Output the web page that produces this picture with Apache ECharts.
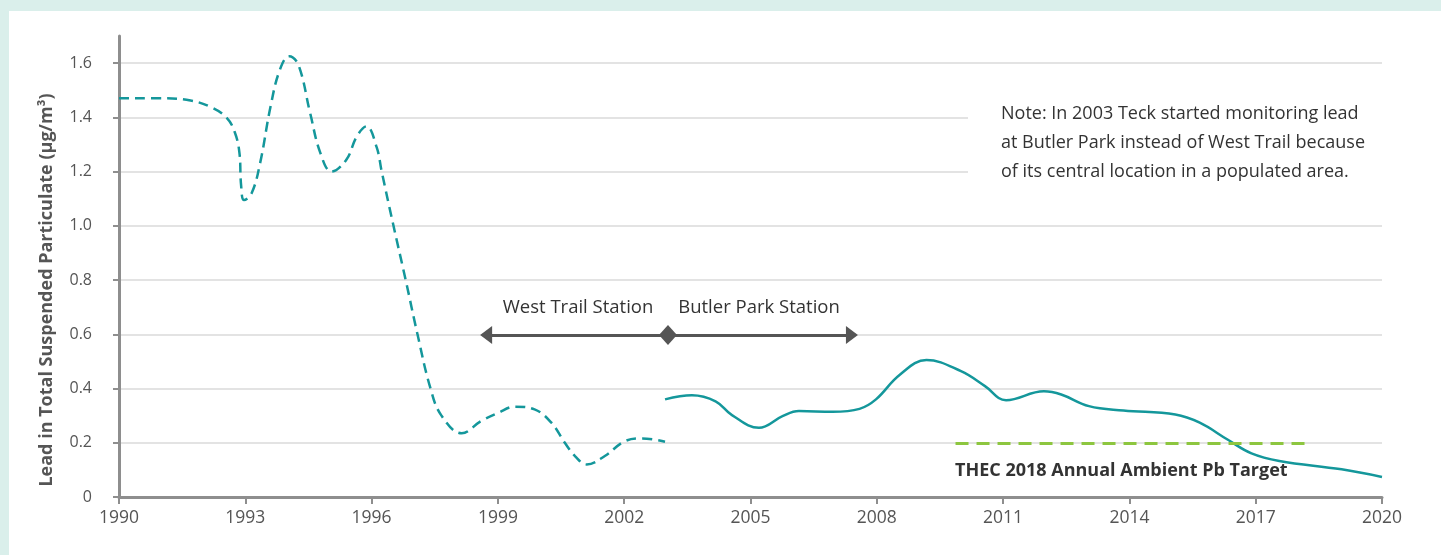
<!DOCTYPE html>
<html>
<head>
<meta charset="utf-8">
<script src="https://cdn.jsdelivr.net/npm/echarts@6/dist/echarts.min.js"></script>
<style>
html,body{margin:0;padding:0;background:#daefeb;}
#c{width:1441px;height:555px;}
</style>
</head>
<body>
<div id="c"></div>
<script>
// West Trail Station (dashed)
const westYears  = [1990.0,1991.1,1991.7,1992.15,1992.55,1992.75,1992.86,1992.9,1992.97,1993.15,1993.35,1993.6,1993.82,1994.04,1994.26,1994.54,1994.78,1995.05,1995.4,1995.65,1995.88,1996.12,1996.24,1996.52,1996.81,1997.09,1997.4,1997.66,1998.14,1998.6,1999.0,1999.4,1999.87,2000.27,2000.59,2000.83,2001.11,2001.54,2002.02,2002.42,2002.97];
const westValues = [1.47,1.47,1.462,1.44,1.40,1.345,1.27,1.15,1.095,1.12,1.23,1.44,1.575,1.625,1.594,1.416,1.27,1.20,1.244,1.33,1.367,1.29,1.2,1.0,0.8,0.6,0.4,0.3,0.235,0.28,0.31,0.333,0.323,0.274,0.2,0.151,0.12,0.151,0.206,0.216,0.204];
// Butler Park Station (solid)
const butlerYears  = [2002.97,2003.61,2004.17,2004.56,2005.2,2005.76,2006.15,2006.95,2007.59,2007.98,2008.54,2009.18,2010.0,2010.57,2011.07,2011.97,2012.38,2013.04,2013.86,2015.09,2015.67,2016.33,2016.9,2017.56,2019.04,2020.0];
const butlerValues = [0.36,0.375,0.353,0.302,0.255,0.298,0.317,0.314,0.325,0.36,0.45,0.505,0.464,0.409,0.357,0.39,0.378,0.335,0.319,0.304,0.274,0.212,0.161,0.133,0.102,0.074];
// Target line
const targetValue = 0.2;
const targetStart = 2009.87;
const targetEnd = 2018.34;
// Station arrow
const arrowValue = 0.597;
const arrowStart = 1998.72;
const arrowSwitch = 2003.04;
const arrowEnd = 2007.41;
// Axis ticks
const yTicks = [0,0.2,0.4,0.6,0.8,1.0,1.2,1.4,1.6];
const xMin = 1990, xMax = 2020, xStep = 3;

const chart = echarts.init(document.getElementById('c'));
const zipPairs = (xs, ys) => xs.map((x, i) => [x, ys[i]]);
const teal = '#14979b';
const dark = '#555555';
const font = '"Open Sans", sans-serif';

chart.setOption({
  animation: false,
  backgroundColor: 'transparent',
  grid: {left: 119, right: 59, top: 36, bottom: 58},
  xAxis: {
    type: 'value', min: xMin, max: xMax, interval: xStep,
    axisLine: {lineStyle: {color: '#8e8e8e', width: 3}},
    axisTick: {show: true, length: 7, lineStyle: {color: '#8e8e8e', width: 2}},
    axisLabel: {color: '#555', fontSize: 17.5, fontFamily: font, margin: 12, formatter: v => String(v)},
    splitLine: {show: false}
  },
  yAxis: {
    type: 'value', min: 0, max: 1.7,
    axisLine: {show: true, lineStyle: {color: '#8e8e8e', width: 3}},
    axisTick: {show: true, length: 6, customValues: yTicks, lineStyle: {color: '#8e8e8e', width: 2}},
    axisLabel: {color: '#555', fontSize: 16, fontFamily: font, margin: 27, customValues: yTicks,
      formatter: v => v === 0 ? '0' : v.toFixed(1)},
    splitLine: {show: true, lineStyle: {color: '#dadada', width: 1.5}}
  },
  graphic: [
    {type: 'rect', z: 1, shape: {x: 968, y: 82, width: 420, height: 120}, style: {fill: '#ffffff'}},
    {type: 'rect', z: -10, shape: {x: 9, y: 11, width: 1432, height: 544}, style: {fill: '#ffffff'}},
    {type: 'text', z: 5, x: 1001, y: 99, style: {text: 'Note: In 2003 Teck started monitoring lead\nat Butler Park instead of West Trail because\nof its central location in a populated area.', fill: '#333', font: '18px ' + font, lineHeight: 29, textVerticalAlign: 'top'}},
    {type: 'text', z: 5, x: 47, y: 290, rotation: Math.PI / 2, style: {text: 'Lead in Total Suspended Particulate (µg/m³)', fill: '#555', font: 'bold 18px ' + font, textAlign: 'center', textVerticalAlign: 'middle'}},
    {type: 'text', z: 5, x: 955, y: 471, style: {text: 'THEC 2018 Annual Ambient Pb Target', fill: '#333', font: 'bold 18px ' + font, textAlign: 'left', textVerticalAlign: 'middle'}},
    {type: 'text', z: 5, x: 578, y: 308, style: {text: 'West Trail Station', fill: '#333', font: '18.5px ' + font, textAlign: 'center', textVerticalAlign: 'middle'}},
    {type: 'text', z: 5, x: 759, y: 308, style: {text: 'Butler Park Station', fill: '#333', font: '18.5px ' + font, textAlign: 'center', textVerticalAlign: 'middle'}}
  ],
  series: [
    {
      type: 'line', name: 'West Trail', data: zipPairs(westYears, westValues),
      smooth: 0.4, showSymbol: false, z: 3,
      lineStyle: {color: teal, width: 2.5, type: [10, 6]},
      markLine: {
        silent: true, symbol: ['triangle', 'triangle'], symbolSize: [18, 12],
        label: {show: false},
        lineStyle: {color: dark, width: 3, type: 'solid'},
        data: [[{coord: [arrowStart, arrowValue]}, {coord: [arrowEnd, arrowValue]}]]
      },
      markPoint: {
        silent: true, symbol: 'diamond', symbolSize: [18, 20],
        itemStyle: {color: dark}, label: {show: false},
        data: [{coord: [arrowSwitch, arrowValue]}]
      }
    },
    {
      type: 'line', name: 'Butler Park', data: zipPairs(butlerYears, butlerValues),
      smooth: 0.4, showSymbol: false, z: 3,
      lineStyle: {color: teal, width: 2.5},
      markLine: {
        silent: true, symbol: 'none', label: {show: false},
        lineStyle: {color: '#8dc63f', width: 3, type: [13, 8]},
        data: [[{coord: [targetStart, targetValue]}, {coord: [targetEnd, targetValue]}]]
      }
    }
  ]
});
</script>
</body>
</html>
